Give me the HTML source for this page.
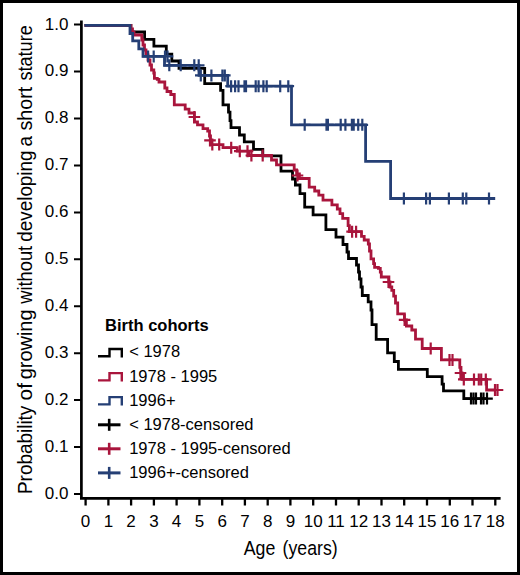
<!DOCTYPE html>
<html><head><meta charset="utf-8"><style>
html,body{margin:0;padding:0;background:#fff;}
#f{position:relative;width:520px;height:575px;box-sizing:border-box;border:3px solid #000;background:#fff;overflow:hidden;}
svg{position:absolute;left:-3px;top:-3px;}
text{font-family:"Liberation Sans",sans-serif;fill:#000;}
</style></head><body><div id="f"><svg width="520" height="575" viewBox="0 0 520 575">
<path d="M81.4,20.5V499.7M80,498.4H500.6" stroke="#000" stroke-width="2.7" fill="none"/>
<path d="M74,24.6H81M74,71.5H81M74,118.5H81M74,165.4H81M74,212.4H81M74,259.3H81M74,306.2H81M74,353.2H81M74,400.1H81M74,447.1H81M74,494.0H81" stroke="#000" stroke-width="2" fill="none"/>
<path d="M85.6,499V505.6M108.4,499V505.6M131.1,499V505.6M153.9,499V505.6M176.6,499V505.6M199.4,499V505.6M222.2,499V505.6M244.9,499V505.6M267.7,499V505.6M290.4,499V505.6M313.2,499V505.6M336.0,499V505.6M358.7,499V505.6M381.5,499V505.6M404.2,499V505.6M427.0,499V505.6M449.8,499V505.6M472.5,499V505.6M495.3,499V505.6" stroke="#000" stroke-width="2.3" fill="none"/>
<g font-size="17"><text x="68.4" y="29.5" text-anchor="end">1.0</text><text x="68.4" y="76.4" text-anchor="end">0.9</text><text x="68.4" y="123.4" text-anchor="end">0.8</text><text x="68.4" y="170.3" text-anchor="end">0.7</text><text x="68.4" y="217.3" text-anchor="end">0.6</text><text x="68.4" y="264.2" text-anchor="end">0.5</text><text x="68.4" y="311.1" text-anchor="end">0.4</text><text x="68.4" y="358.1" text-anchor="end">0.3</text><text x="68.4" y="405.0" text-anchor="end">0.2</text><text x="68.4" y="452.0" text-anchor="end">0.1</text><text x="68.4" y="498.9" text-anchor="end">0.0</text><text x="85.6" y="527.2" text-anchor="middle">0</text><text x="108.4" y="527.2" text-anchor="middle">1</text><text x="131.1" y="527.2" text-anchor="middle">2</text><text x="153.9" y="527.2" text-anchor="middle">3</text><text x="176.6" y="527.2" text-anchor="middle">4</text><text x="199.4" y="527.2" text-anchor="middle">5</text><text x="222.2" y="527.2" text-anchor="middle">6</text><text x="244.9" y="527.2" text-anchor="middle">7</text><text x="267.7" y="527.2" text-anchor="middle">8</text><text x="290.4" y="527.2" text-anchor="middle">9</text><text x="313.2" y="527.2" text-anchor="middle">10</text><text x="336.0" y="527.2" text-anchor="middle">11</text><text x="358.7" y="527.2" text-anchor="middle">12</text><text x="381.5" y="527.2" text-anchor="middle">13</text><text x="404.2" y="527.2" text-anchor="middle">14</text><text x="427.0" y="527.2" text-anchor="middle">15</text><text x="449.8" y="527.2" text-anchor="middle">16</text><text x="472.5" y="527.2" text-anchor="middle">17</text><text x="495.3" y="527.2" text-anchor="middle">18</text></g>
<text x="243.77" y="555.2" font-size="20.5" textLength="31.62" lengthAdjust="spacingAndGlyphs">Age</text>
<text x="282.6" y="555.2" font-size="20.5" textLength="55.1" lengthAdjust="spacingAndGlyphs">(years)</text>
<text transform="translate(31.9,494.05) rotate(-90)" font-size="20.5" textLength="88.39" lengthAdjust="spacingAndGlyphs">Probability</text>
<text transform="translate(31.9,400.48) rotate(-90)" font-size="20.5" textLength="17.45" lengthAdjust="spacingAndGlyphs">of</text>
<text transform="translate(31.9,379.34) rotate(-90)" font-size="20.5" textLength="69.93" lengthAdjust="spacingAndGlyphs">growing</text>
<text transform="translate(31.9,303.67) rotate(-90)" font-size="20.5" textLength="57.81" lengthAdjust="spacingAndGlyphs">without</text>
<text transform="translate(31.9,241.69) rotate(-90)" font-size="20.5" textLength="91.21" lengthAdjust="spacingAndGlyphs">developing</text>
<text transform="translate(31.9,146.5) rotate(-90)" font-size="20.5" textLength="10.5" lengthAdjust="spacingAndGlyphs">a</text>
<text transform="translate(31.9,130.55) rotate(-90)" font-size="20.5" textLength="43.69" lengthAdjust="spacingAndGlyphs">short</text>
<text transform="translate(31.9,80.5) rotate(-90)" font-size="20.5" textLength="55.2" lengthAdjust="spacingAndGlyphs">stature</text>
<path d="M84.5,25.3 H130.8 V32 H144.6 V39.3 H153.9 V46.1 H166.3 V54.2 H171.8 V61 H179 V68.4 H204.7 V83.6 H220.6 V90.3 H223 V104.9 H228.5 V112.2 H230 V120.7 H231 V127.6 H239.5 V135 H244.3 V141.9 H253.5 V149.4 H262.8 V155.8 H281 V171.2 H292.5 V179 H295.4 V185 H300 V193.6 H304.7 V207.2 H313.1 V214.9 H325.9 V229.7 H336 V237.1 H343 V244.5 H347 V252 H348.5 V258.5 H356.5 V265 H358.5 V272 H359.5 V279 H361 V287 H362.3 V295.5 H368.2 V301.8 H371 V310 H372 V324.6 H376.2 V339.4 H387.6 V352.9 H394.3 V361.5 H398.4 V369.3 H427.3 V376.7 H442.1 V384.1 H443.5 V390.8 H463.8 V398.6 H487" fill="none" stroke="#000000" stroke-width="2.8" stroke-linejoin="miter" stroke-linecap="butt"/>
<path d="M471.0,392.6V404.6M465.2,398.6H476.8M473.5,392.6V404.6M467.7,398.6H479.3M476.0,392.6V404.6M470.2,398.6H481.8M481.0,392.6V404.6M475.2,398.6H486.8M483.5,392.6V404.6M477.7,398.6H489.3M487.0,392.6V404.6M481.2,398.6H492.8" stroke="#000000" stroke-width="2.2" fill="none"/>

<path d="M84.5,25.3 H131 V29 H132.5 V32 H134 V35 H141.8 V40 H143 V45 H144.5 V50 H146 V55 H148 V60 H150 V65 H151.5 V70 H153.8 V73 H154.4 V78.3 H157.3 V79.4 H159 V82 H164.8 V88 H167 V91.5 H170.8 V94.5 H174.3 V104.9 H185.2 V109.2 H189 V113 H194.4 V122 H197.5 V124.8 H203 V128.7 H207.7 V131 H209.5 V136 H210.5 V144.6 H223 V147.7 H237.3 V151.2 H249 V155.5 H271.5 V160 H276.5 V164.9 H294.2 V170 H296.6 V173.8 H299.4 V178.5 H309.2 V187.1 H314.7 V191 H318.8 V195.2 H323 V200.1 H331.9 V204.8 H337.3 V209 H340 V213.6 H342.7 V218.3 H348.1 V225.7 H349.4 V231.7 H361.5 V236.4 H364.2 V240 H368.3 V244 H369.5 V251 H371 V258.8 H373.6 V263.6 H374.6 V267.4 H378.4 V268.4 H380.3 V272.2 H381.3 V277 H388.9 V282 H390 V287 H391.8 V290.4 H393.7 V296.1 H395.5 V303 H397.7 V313.8 H404.4 V320 H406.4 V326 H411.8 V330 H415.5 V339.2 H422.2 V348.5 H441.4 V359.9 H459.8 V367.3 H461 V373 H462 V379.4 H486.6 V390 H495" fill="none" stroke="#A9153C" stroke-width="2.8" stroke-linejoin="miter" stroke-linecap="butt"/>
<path d="M194.4,111.0V123.0M188.6,117.0H200.2M210.0,134.4V146.4M204.2,140.4H215.8M212.3,138.6V150.6M219.2,138.6V150.6M231.2,141.7V153.7M225.4,147.7H237.0M239.8,145.2V157.2M234.0,151.2H245.6M247.5,145.2V157.2M241.7,151.2H253.3M251.4,149.5V161.5M245.6,155.5H257.2M262.7,149.5V161.5M256.9,155.5H268.5M297.5,169.5V181.5M291.7,175.5H303.3M352.1,225.7V237.7M346.3,231.7H357.9M356.1,225.7V237.7M350.3,231.7H361.9M388.5,276.0V288.0M382.7,282.0H394.3M404.6,313.9V325.9M398.8,319.9H410.4M430.7,342.5V354.5M424.9,348.5H436.5M449.5,353.9V365.9M443.7,359.9H455.3M452.5,353.9V365.9M446.7,359.9H458.3M460.5,367.0V379.0M454.7,373.0H466.3M463.8,373.4V385.4M458.0,379.4H469.6M474.0,373.4V385.4M468.2,379.4H479.8M478.8,373.4V385.4M473.0,379.4H484.6M481.2,373.4V385.4M475.4,379.4H487.0M485.8,373.4V385.4M480.0,379.4H491.6M495.0,384.0V396.0M489.2,390.0H500.8M497.5,384.0V396.0M491.7,390.0H503.3" stroke="#A9153C" stroke-width="2.2" fill="none"/>

<path d="M84.5,25.3 H130 V33.5 H132.7 V40.9 H138.8 V48.8 H143 V56.4 H164.5 V65.3 H199 V75.4 H227.7 V86.2 H291.5 V124.8 H365.6 V161.3 H390.6 V198.5 H495.2" fill="none" stroke="#253F75" stroke-width="2.8" stroke-linejoin="miter" stroke-linecap="butt"/>
<path d="M148.1,50.4V62.4M142.3,56.4H153.9M153.7,50.4V62.4M147.9,56.4H159.5M165.0,50.4V62.4M159.2,56.4H170.8M167.5,50.4V62.4M161.7,56.4H173.3M169.3,59.3V71.3M163.5,65.3H175.1M180.7,59.3V71.3M174.9,65.3H186.5M194.3,59.3V71.3M188.5,65.3H200.1M198.7,59.3V71.3M192.9,65.3H204.5M200.8,69.4V81.4M195.0,75.4H206.6M211.4,69.4V81.4M205.6,75.4H217.2M222.4,69.4V81.4M216.6,75.4H228.2M224.8,69.4V81.4M219.0,75.4H230.6M231.1,80.2V92.2M225.3,86.2H236.9M235.1,80.2V92.2M229.3,86.2H240.9M238.5,80.2V92.2M232.7,86.2H244.3M244.5,80.2V92.2M238.7,86.2H250.3M246.0,80.2V92.2M240.2,86.2H251.8M255.7,80.2V92.2M249.9,86.2H261.5M258.6,80.2V92.2M252.8,86.2H264.4M263.4,80.2V92.2M257.6,86.2H269.2M266.7,80.2V92.2M260.9,86.2H272.5M280.2,80.2V92.2M274.4,86.2H286.0M288.3,80.2V92.2M282.5,86.2H294.1M304.7,118.8V130.8M298.9,124.8H310.5M326.5,118.8V130.8M320.7,124.8H332.3M327.9,118.8V130.8M322.1,124.8H333.7M340.7,118.8V130.8M334.9,124.8H346.5M345.4,118.8V130.8M339.6,124.8H351.2M351.9,118.8V130.8M346.1,124.8H357.7M353.7,118.8V130.8M347.9,124.8H359.5M358.2,118.8V130.8M352.4,124.8H364.0M362.3,118.8V130.8M356.5,124.8H368.1M403.9,192.5V204.5M398.1,198.5H409.7M426.1,192.5V204.5M420.3,198.5H431.9M429.9,192.5V204.5M424.1,198.5H435.7M448.9,192.5V204.5M443.1,198.5H454.7M462.8,192.5V204.5M457.0,198.5H468.6M466.3,192.5V204.5M460.5,198.5H472.1M489.0,192.5V204.5M483.2,198.5H494.8" stroke="#253F75" stroke-width="2.2" fill="none"/>

<text x="105.1" y="330.8" font-weight="bold" font-size="16.5">Birth cohorts</text><text x="129.2" y="357.4" font-size="16.5">&lt; 1978</text><path d="M98,356.3H109.5V349.0H121.8V357.4" stroke="#000000" stroke-width="2.4" fill="none"/><text x="129.2" y="381.5" font-size="16.5">1978 - 1995</text><path d="M98,380.4H109.5V373.1H121.8V381.5" stroke="#A9153C" stroke-width="2.4" fill="none"/><text x="129.2" y="405.5" font-size="16.5">1996+</text><path d="M98,404.4H109.5V397.1H121.8V405.5" stroke="#253F75" stroke-width="2.4" fill="none"/><text x="129.2" y="429.6" font-size="16.5">&lt; 1978-censored</text><path d="M98,424.8H120.5" stroke="#000000" stroke-width="3" fill="none"/><path d="M109.2,418.8V430.8" stroke="#000000" stroke-width="2.6" fill="none"/><text x="129.2" y="453.6" font-size="16.5">1978 - 1995-censored</text><path d="M98,448.8H120.5" stroke="#A9153C" stroke-width="3" fill="none"/><path d="M109.2,442.8V454.8" stroke="#A9153C" stroke-width="2.6" fill="none"/><text x="129.2" y="477.7" font-size="16.5">1996+-censored</text><path d="M98,472.9H120.5" stroke="#253F75" stroke-width="3" fill="none"/><path d="M109.2,466.9V478.9" stroke="#253F75" stroke-width="2.6" fill="none"/>
</svg></div></body></html>
